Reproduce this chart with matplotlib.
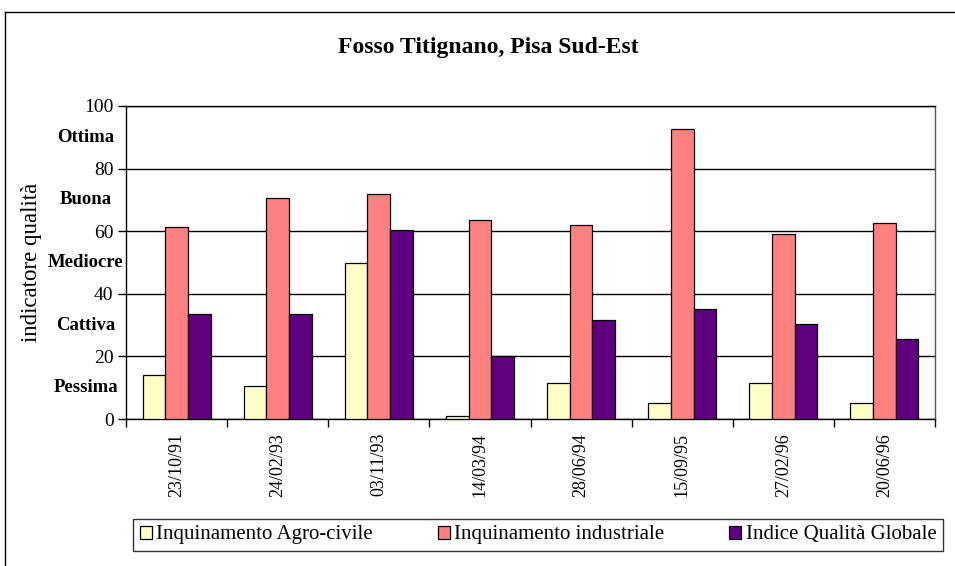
import numpy as np
import matplotlib
matplotlib.use("Agg")
import matplotlib.pyplot as plt
from matplotlib.lines import Line2D
from matplotlib.transforms import blended_transform_factory

plt.rcParams['font.family'] = ['Liberation Serif', 'DejaVu Serif']

# data
dates = ["23/10/91", "24/02/93", "03/11/93", "14/03/94",
         "28/06/94", "15/09/95", "27/02/96", "20/06/96"]
agro_civile = [14, 10.5, 50, 1, 11.5, 5, 11.5, 5]
industriale = [61.5, 70.5, 72, 63.5, 62, 92.5, 59, 62.5]
qualita_globale = [33.5, 33.5, 60.5, 20, 31.5, 35, 30.5, 25.5]
series_names = ["Inquinamento Agro-civile", "Inquinamento industriale",
                "Indice Qualità Globale"]
class_labels = ["Pessima", "Cattiva", "Mediocre", "Buona", "Ottima"]
class_values = [10, 30, 50, 70, 90]

colors = ["#FFFFC6", "#FF8080", "#600080"]

fig = plt.figure(figsize=(9.55, 5.66), dpi=100)
ax = fig.add_axes([126 / 955, 1 - 419 / 566, 809 / 955, 313 / 566])

x = np.arange(len(dates))
w = 0.224
for i, (vals, name) in enumerate(zip([agro_civile, industriale, qualita_globale], series_names)):
    ax.bar(x + (i - 1) * w, vals, w, color=colors[i], edgecolor="black",
           linewidth=0.9, label=name, zorder=3)

ax.set_xlim(-0.5, len(dates) - 0.5)
ax.set_ylim(0, 100)
ax.set_yticks(range(0, 101, 20))
ax.yaxis.grid(True, color="black", linewidth=1.0, zorder=0)
ax.set_axisbelow(True)
ax.tick_params(axis="y", direction="out", length=6, width=1, pad=3, labelsize=14)

ax.set_xticks(x)
ax.set_xticklabels(dates, rotation=90, fontsize=13)
ax.tick_params(axis="x", which="major", length=0, pad=10)
ax.set_xticks(np.arange(-0.5, len(dates), 1.0), minor=True)
ax.tick_params(axis="x", which="minor", direction="out", length=6, width=1)

for side in ["left", "bottom", "top"]:
    ax.spines[side].set_color("black")
    ax.spines[side].set_linewidth(1.0)
ax.spines["right"].set_color("#555555")
ax.spines["right"].set_linewidth(1.0)

ax.set_ylabel("indicatore qualità", fontsize=16.5)
ax.yaxis.set_label_coords(42 / 955, 1 - 262 / 566, transform=fig.transFigure)

trans = blended_transform_factory(fig.transFigure, ax.transData)
for lab, v in zip(class_labels, class_values):
    ax.text(86 / 955, v, lab, transform=trans, ha="center", va="center",
            fontsize=13.5, fontweight="bold")

fig.text(488 / 955, 1 - 47 / 566, "Fosso Titignano, Pisa Sud-Est",
         ha="center", va="center", fontsize=17, fontweight="bold")

leg = fig.legend(loc="center", bbox_to_anchor=(538 / 955, 1 - 535 / 566), ncol=3,
                 fontsize=15, frameon=True, fancybox=False, edgecolor="black",
                 handlelength=0.6, handleheight=0.6, handletextpad=0.2,
                 columnspacing=3.1, borderpad=0.3, borderaxespad=0)
leg.get_frame().set_linewidth(1.0)

# outer chart frame (cut at right and bottom)
fig.add_artist(Line2D([5 / 955, 5 / 955], [0, 1 - 12 / 566], color="black", linewidth=1.0))
fig.add_artist(Line2D([5 / 955, 1], [1 - 12 / 566, 1 - 12 / 566], color="black", linewidth=1.0))

fig.savefig("out.png", dpi=100)
